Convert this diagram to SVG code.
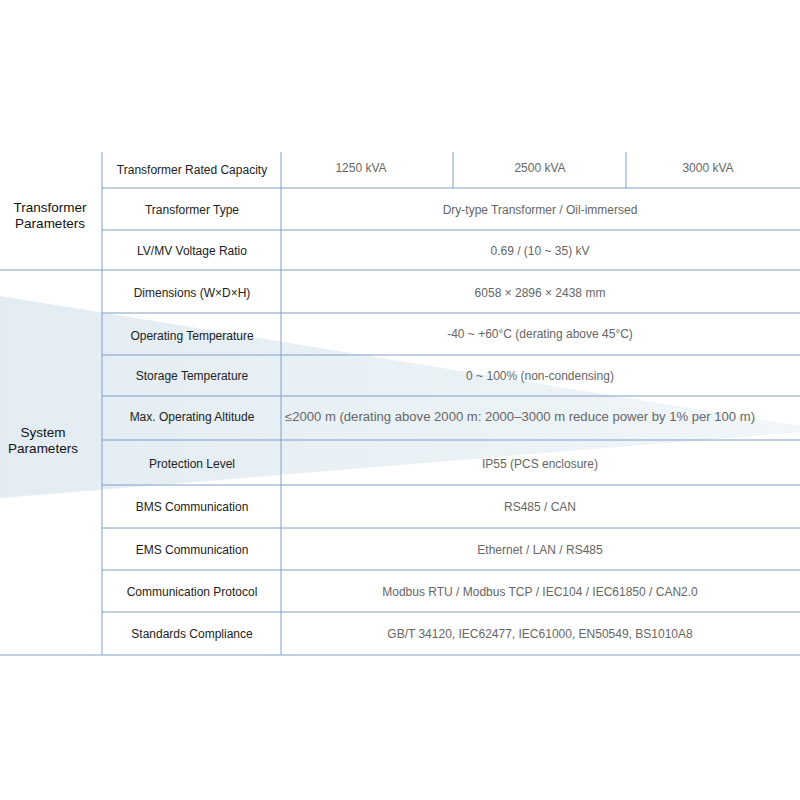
<svg xmlns="http://www.w3.org/2000/svg" width="800" height="800" viewBox="0 0 800 800">
<style>
.l{stroke:#7f9fc8;stroke-width:1}
.k{font-family:"Liberation Sans",Arial,sans-serif;font-size:12px;fill:#222;text-anchor:middle}
.v{font-family:"Liberation Sans",Arial,sans-serif;font-size:12px;fill:#666;text-anchor:middle}
.g{font-family:"Liberation Sans",Arial,sans-serif;font-size:13.5px;fill:#111;text-anchor:middle}
</style>
<defs><linearGradient id="bg" x1="0" y1="0" x2="1" y2="0"><stop offset="0" stop-color="#e2ecf2"/><stop offset="1" stop-color="#f1f6f9"/></linearGradient></defs>
<rect width="800" height="800" fill="#fff"/>
<polygon points="0,296 800,426 800,432 0,498" fill="url(#bg)"/>
<g id="grid">
<line class="l" x1="102" y1="152" x2="102" y2="655"/>
<line class="l" x1="281" y1="152" x2="281" y2="655"/>
<line class="l" x1="453" y1="152" x2="453" y2="188"/>
<line class="l" x1="626" y1="152" x2="626" y2="188"/>
<line class="l" x1="102" y1="188" x2="800" y2="188"/>
<line class="l" x1="102" y1="230" x2="800" y2="230"/>
<line class="l" x1="0" y1="270" x2="800" y2="270"/>
<line class="l" x1="102" y1="313" x2="800" y2="313"/>
<line class="l" x1="102" y1="355" x2="800" y2="355"/>
<line class="l" x1="102" y1="396" x2="800" y2="396"/>
<line class="l" x1="102" y1="440" x2="800" y2="440"/>
<line class="l" x1="102" y1="485" x2="800" y2="485"/>
<line class="l" x1="102" y1="528" x2="800" y2="528"/>
<line class="l" x1="102" y1="570" x2="800" y2="570"/>
<line class="l" x1="102" y1="612" x2="800" y2="612"/>
<line class="l" x1="0" y1="655" x2="800" y2="655"/>
</g>
<g id="groups">
<text class="g" x="50" y="212">Transformer</text><text class="g" x="50" y="228">Parameters</text>
<text class="g" x="43" y="437">System</text><text class="g" x="43" y="453">Parameters</text>
</g>
<g id="rows">
<text class="k" x="192" y="174">Transformer Rated Capacity</text>
<text class="v" x="361" y="172">1250 kVA</text><text class="v" x="540" y="172">2500 kVA</text><text class="v" x="708" y="172">3000 kVA</text>
<text class="k" x="192" y="214">Transformer Type</text><text class="v" x="540" y="214">Dry-type Transformer / Oil-immersed</text>
<text class="k" x="192" y="255">LV/MV Voltage Ratio</text><text class="v" x="540" y="255">0.69 / (10 ~ 35) kV</text>
<text class="k" x="192" y="297">Dimensions (W×D×H)</text><text class="v" x="540" y="297">6058 × 2896 × 2438 mm</text>
<text class="k" x="192" y="340">Operating Temperature</text><text class="v" x="540" y="338">-40 ~ +60°C (derating above 45°C)</text>
<text class="k" x="192" y="380">Storage Temperature</text><text class="v" x="540" y="380">0 ~ 100% (non-condensing)</text>
<text class="k" x="192" y="421">Max. Operating Altitude</text><text class="v" x="520" y="421" textLength="470" lengthAdjust="spacingAndGlyphs">≤2000 m (derating above 2000 m: 2000–3000 m reduce power by 1% per 100 m)</text>
<text class="k" x="192" y="468">Protection Level</text><text class="v" x="540" y="468">IP55 (PCS enclosure)</text>
<text class="k" x="192" y="511">BMS Communication</text><text class="v" x="540" y="511">RS485 / CAN</text>
<text class="k" x="192" y="554">EMS Communication</text><text class="v" x="540" y="554">Ethernet / LAN / RS485</text>
<text class="k" x="192" y="596">Communication Protocol</text><text class="v" x="540" y="596">Modbus RTU / Modbus TCP / IEC104 / IEC61850 / CAN2.0</text>
<text class="k" x="192" y="638">Standards Compliance</text><text class="v" x="540" y="638">GB/T 34120, IEC62477, IEC61000, EN50549, BS1010A8</text>
</g>
</svg>
